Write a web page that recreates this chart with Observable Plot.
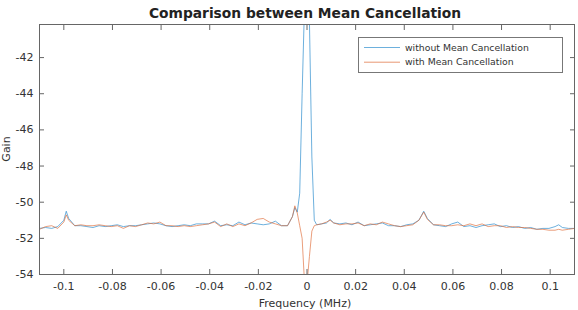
<!DOCTYPE html>
<html>
<head>
<meta charset="utf-8">
<script src="https://cdn.jsdelivr.net/npm/d3@7"></script>
<script src="https://cdn.jsdelivr.net/npm/@observablehq/plot@0.6"></script>
<style>
  html, body { margin: 0; padding: 0; background: #fff; }
  svg { display: block; }
</style>
</head>
<body>
<div id="chart"></div>
<script>
const titleText = "Comparison between Mean Cancellation";
const xLabel = "Frequency (MHz)";
const yLabel = "Gain";
const seriesNames = ["without Mean Cancellation", "with Mean Cancellation"];

const xTicks = [-0.1, -0.08, -0.06, -0.04, -0.02, 0, 0.02, 0.04, 0.06, 0.08, 0.1];
const yTicks = [-54, -52, -50, -48, -46, -44, -42];

const freq = [
  -0.11, -0.1075, -0.105, -0.1025, -0.1, -0.099, -0.098, -0.0955, -0.093, -0.0905,
  -0.088, -0.0855, -0.083, -0.0805, -0.078, -0.0755, -0.073, -0.0705, -0.068, -0.0655,
  -0.063, -0.0605, -0.058, -0.0555, -0.053, -0.0505, -0.048, -0.0455, -0.043, -0.0405,
  -0.038, -0.0355, -0.033, -0.0305, -0.028, -0.0255, -0.023, -0.0205, -0.018, -0.0155,
  -0.013, -0.0105, -0.008, -0.006, -0.005, -0.004, -0.003, -0.002, -0.001, 0,
  0.001, 0.002, 0.003, 0.004, 0.006, 0.008, 0.0095, 0.011, 0.0135, 0.016,
  0.0185, 0.021, 0.0235, 0.026, 0.0285, 0.031, 0.0335, 0.036, 0.0385, 0.041,
  0.0435, 0.046, 0.048, 0.0495, 0.052, 0.0545, 0.057, 0.0595, 0.062, 0.0645,
  0.067, 0.0695, 0.072, 0.0745, 0.077, 0.0795, 0.082, 0.0845, 0.087, 0.0895,
  0.092, 0.0945, 0.097, 0.0995, 0.102, 0.1035, 0.105, 0.1075, 0.11
];

const gainWithout = [
  -51.45, -51.4, -51.45, -51.35, -51.0, -50.5, -50.9, -51.3, -51.3, -51.35,
  -51.4, -51.3, -51.35, -51.3, -51.25, -51.35, -51.3, -51.3, -51.25, -51.2,
  -51.15, -51.2, -51.3, -51.35, -51.3, -51.25, -51.3, -51.2, -51.2, -51.2,
  -51.05, -51.3, -51.25, -51.3, -51.1, -51.25, -51.15, -51.2, -51.25, -51.2,
  -51.05, -51.3, -51.3, -50.8, -50.3, -50.55, -49.5, -44.0, -39.0, -38.0,
  -40.0, -47.5, -51.0, -51.25, -51.2, -51.15, -50.95, -51.15, -51.2, -51.15,
  -51.25, -51.1, -51.3, -51.25, -51.2, -51.15, -51.3, -51.3, -51.35, -51.25,
  -51.2, -51.0, -50.5, -50.9, -51.25, -51.3, -51.35, -51.2, -51.1, -51.35,
  -51.3, -51.4, -51.3, -51.25, -51.2, -51.35, -51.3, -51.4, -51.35, -51.45,
  -51.4, -51.5, -51.45, -51.45, -51.35, -51.25, -51.4, -51.45, -51.45
];

const gainWith = [
  -51.5, -51.35, -51.3, -51.45, -51.1, -50.7, -51.0, -51.3, -51.25, -51.3,
  -51.3, -51.25, -51.3, -51.35, -51.3, -51.45, -51.3, -51.35, -51.25, -51.15,
  -51.2, -51.1, -51.3, -51.3, -51.35, -51.3, -51.35, -51.3, -51.25, -51.2,
  -51.1, -51.35, -51.2, -51.35, -51.2, -51.3, -51.15, -50.95, -50.9, -51.1,
  -51.2, -51.3, -51.3, -50.8, -50.2, -50.6, -51.3, -52.0, -54.5, -54.5,
  -53.0, -51.6, -51.3, -51.25, -51.2, -51.1, -51.0, -51.15, -51.25, -51.2,
  -51.2, -51.15, -51.3, -51.2, -51.25, -51.1, -51.2, -51.3, -51.35, -51.3,
  -51.25, -51.0, -50.55, -50.95, -51.25, -51.25, -51.3, -51.3, -51.25, -51.3,
  -51.2, -51.3, -51.2, -51.35, -51.3, -51.3, -51.4, -51.35, -51.4, -51.4,
  -51.45, -51.5, -51.5, -51.55, -51.55, -51.5, -51.55, -51.5, -51.45
];

const colors = ["#2F8FCF", "#DE6A36"];

const rowsWithout = freq.map((f, i) => ({f, g: gainWithout[i]}));
const rowsWith = freq.map((f, i) => ({f, g: gainWith[i]}));

const fmt = d => String(+d.toFixed(2));
const axisColor = "#666";
const font = "DejaVu Sans, sans-serif";

const svg = Plot.plot({
  width: 578,
  height: 310,
  marginTop: 24,
  marginLeft: 39,
  marginRight: 4,
  marginBottom: 36,
  style: {fontFamily: font, fontSize: "11px", color: "#333", background: "#fff"},
  x: {domain: [-0.11, 0.11]},
  y: {domain: [-54, -40.17]},
  marks: [
    Plot.line(rowsWithout, {x: "f", y: "g", stroke: colors[0], strokeWidth: 1, strokeOpacity: 0.7, clip: true}),
    Plot.line(rowsWith, {x: "f", y: "g", stroke: colors[1], strokeWidth: 1, strokeOpacity: 0.65, clip: true}),
    Plot.axisX(xTicks, {anchor: "bottom", tickSize: -5, tickPadding: 13, tickFormat: fmt, label: null, stroke: axisColor, fill: "#333"}),
    Plot.axisX(xTicks, {anchor: "top", tickSize: -5, tickFormat: () => "", label: null, stroke: axisColor}),
    Plot.axisY(yTicks, {anchor: "left", tickSize: -5, tickPadding: 11, tickFormat: fmt, label: null, stroke: axisColor, fill: "#333"}),
    Plot.axisY(yTicks, {anchor: "right", tickSize: -5, tickFormat: () => "", label: null, stroke: axisColor}),
    Plot.frame({stroke: axisColor, strokeWidth: 1})
  ]
});

const s = d3.select(svg);
s.append("text")
  .attr("x", 305).attr("y", 18)
  .attr("text-anchor", "middle")
  .attr("font-family", font).attr("font-weight", "bold").attr("font-size", 13.8)
  .attr("fill", "#222")
  .text(titleText);
s.append("text")
  .attr("transform", "translate(10,149) rotate(-90)")
  .attr("text-anchor", "middle")
  .attr("font-family", font).attr("font-size", 11)
  .attr("fill", "#333")
  .text(yLabel);
s.append("text")
  .attr("x", 305).attr("y", 306.5)
  .attr("text-anchor", "middle")
  .attr("font-family", font).attr("font-size", 11)
  .attr("fill", "#333")
  .text(xLabel);

const lg = s.append("g");
lg.append("rect")
  .attr("x", 358.5).attr("y", 37.5).attr("width", 204).attr("height", 35)
  .attr("fill", "#fff").attr("stroke", "#777");
seriesNames.forEach((name, i) => {
  const y = 47.5 + i * 14.7;
  lg.append("line")
    .attr("x1", 364).attr("x2", 400).attr("y1", y).attr("y2", y)
    .attr("stroke", colors[i]).attr("stroke-opacity", 0.7);
  lg.append("text")
    .attr("x", 405).attr("y", y).attr("dy", "0.35em")
    .attr("text-anchor", "start")
    .attr("font-family", font).attr("font-size", 9.3)
    .attr("fill", "#333")
    .text(name);
});

document.getElementById("chart").appendChild(svg);
</script>
</body>
</html>
